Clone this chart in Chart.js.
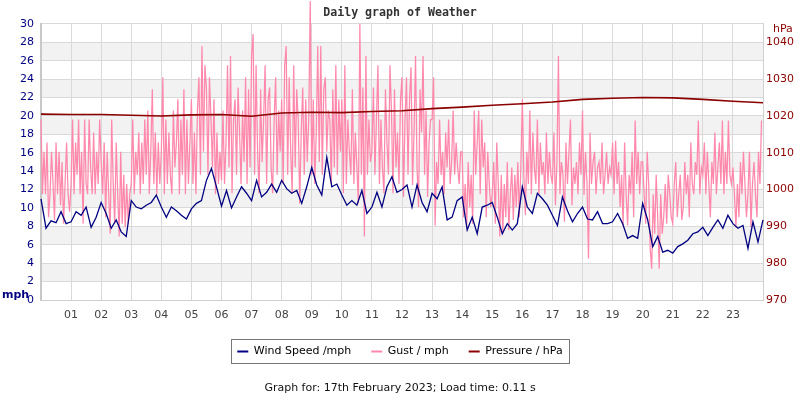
<!DOCTYPE html>
<html>
<head>
<meta charset="utf-8">
<script src="https://cdn.jsdelivr.net/npm/chart.js@4.4.0/dist/chart.umd.min.js"></script>
<style>
  html, body { margin: 0; padding: 0; background: #fff; }
  #wrap { width: 800px; height: 400px; }
</style>
</head>
<body>
<div id="wrap"><canvas id="c" width="800" height="400"></canvas></div>
<script>
// ---- data ----
const hourLabels = ['01','02','03','04','05','06','07','08','09','10','11','12','13','14','15','16','17','18','19','20','21','22','23'];
const windIntervalMin = 10;
const windSpeed = [
  11.0, 7.8, 8.6, 8.4, 9.6, 8.3,
  8.5, 9.6, 9.2, 10.1, 7.9, 9.0,
  10.6, 9.4, 7.8, 8.7, 7.4, 6.9,
  10.8, 10.1, 9.9, 10.3, 10.6, 11.4,
  10.1, 9.0, 10.1, 9.7, 9.2, 8.8,
  9.9, 10.5, 10.8, 13.0, 14.3, 12.3,
  10.2, 11.9, 10.0, 11.2, 12.3, 11.6,
  10.8, 13.0, 11.2, 11.7, 12.6, 11.7,
  13.0, 12.1, 11.6, 11.9, 10.5, 12.3,
  14.4, 12.5, 11.4, 15.5, 12.3, 12.6,
  11.4, 10.3, 10.8, 10.3, 11.9, 9.4,
  10.1, 11.7, 10.1, 12.3, 13.4, 11.7,
  12.0, 12.5, 10.1, 12.5, 10.6, 9.6,
  11.6, 11.0, 12.3, 8.7, 9.0, 10.8,
  11.2, 7.6, 9.0, 7.2, 10.1, 10.3,
  10.6, 9.0, 7.2, 8.3, 7.6, 8.3,
  12.3, 10.1, 9.4, 11.6, 11.0, 10.3,
  9.2, 8.1, 11.2, 9.7, 8.5, 9.4,
  10.1, 8.8, 8.7, 9.6, 8.3, 8.3,
  8.5, 9.4, 8.3, 6.7, 7.0, 6.7,
  10.5, 8.7, 5.8, 6.9, 5.2, 5.4,
  5.1, 5.8, 6.1, 6.5, 7.2, 7.4,
  7.9, 7.0, 7.9, 8.7, 7.8, 9.2,
  8.3, 7.8, 8.1, 5.6, 8.5, 6.3,
  8.7
];
const gustIntervalMin = 3;
const gust = [
  19.6, 11.5, 16.1, 11.5, 17.1, 9.0, 11.5, 16.1, 12.6, 8.7, 17.1, 11.5, 16.1, 10.3, 15.0, 8.3, 12.6, 17.1, 11.5, 9.6,
  12.6, 19.6, 11.5, 17.1, 13.6, 19.6, 11.5, 16.1, 8.3, 19.6, 12.6, 11.5, 19.6, 14.4, 11.5, 18.2, 11.5, 16.1, 12.6, 19.6,
  15.0, 11.5, 17.1, 9.0, 16.1, 11.5, 7.2, 19.6, 12.6, 8.3, 17.1, 11.5, 6.9, 16.1, 8.3, 13.6, 7.9, 12.6, 8.3, 11.5,
  12.6, 19.6, 11.5, 16.1, 13.6, 18.2, 11.5, 17.1, 12.6, 19.6, 13.6, 20.6, 11.5, 16.1, 22.9, 12.6, 18.2, 11.5, 17.1, 12.6,
  16.1, 24.2, 11.5, 19.6, 12.6, 18.2, 13.6, 11.5, 20.6, 14.4, 17.1, 21.8, 11.5, 19.6, 13.6, 22.9, 11.5, 19.6, 12.6, 17.1,
  21.8, 12.6, 18.2, 11.5, 20.6, 24.2, 13.6, 27.6, 16.1, 25.5, 22.9, 13.6, 24.2, 19.6, 14.4, 21.8, 11.5, 18.2, 12.6, 16.1,
  13.0, 20.6, 12.6, 17.1, 25.5, 14.4, 26.5, 11.6, 19.6, 21.8, 13.6, 23.1, 18.2, 12.6, 20.6, 15.0, 24.2, 12.6, 22.9, 14.4,
  26.5, 28.9, 13.6, 25.5, 16.1, 11.6, 22.9, 15.0, 19.6, 25.5, 12.6, 21.8, 23.1, 14.4, 11.6, 19.6, 24.2, 13.6, 20.6, 16.1,
  21.8, 12.6, 25.5, 27.6, 13.6, 24.2, 16.1, 11.6, 25.5, 14.4, 22.9, 19.6, 10.5, 18.2, 23.1, 13.6, 21.8, 15.0, 19.6, 32.5,
  13.6, 21.8, 12.6, 18.2, 27.6, 15.0, 27.6, 13.6, 22.9, 24.2, 16.1, 20.6, 19.6, 12.6, 22.9, 14.4, 25.5, 13.6, 21.8, 16.1,
  21.8, 11.6, 25.5, 12.6, 19.6, 16.1, 13.6, 22.9, 12.6, 18.2, 14.4, 10.5, 30.0, 13.6, 23.1, 6.9, 26.5, 13.6, 19.6, 15.0,
  16.1, 23.1, 13.6, 19.6, 25.5, 12.6, 19.6, 14.4, 11.6, 22.9, 17.1, 13.6, 25.5, 20.6, 11.6, 22.9, 14.4, 18.2, 12.6, 21.8,
  24.2, 11.2, 19.6, 24.2, 13.6, 21.8, 25.3, 12.5, 18.2, 26.5, 14.4, 10.1, 22.9, 18.2, 26.5, 13.6, 20.6, 11.2, 17.1, 19.6,
  19.6, 24.2, 8.1, 15.0, 12.6, 19.6, 13.6, 16.1, 11.5, 18.2, 14.4, 19.6, 12.6, 15.0, 20.6, 13.6, 17.1, 14.4, 12.6, 16.1,
  16.1, 9.0, 12.6, 7.9, 15.0, 10.1, 13.6, 8.3, 20.6, 13.6, 17.1, 20.6, 11.5, 19.6, 14.4, 17.1, 9.0, 16.1, 12.6, 10.1,
  11.5, 15.0, 8.3, 17.1, 12.6, 6.9, 13.6, 7.2, 12.6, 9.0, 15.0, 7.6, 11.5, 14.4, 8.7, 13.6, 10.1, 15.0, 9.0, 14.4,
  21.8, 13.6, 9.2, 16.1, 12.6, 20.6, 11.5, 18.2, 14.4, 12.6, 19.6, 11.5, 17.1, 13.6, 15.0, 11.5, 18.2, 12.6, 16.1, 13.6,
  12.6, 18.2, 10.3, 15.0, 26.5, 11.5, 15.0, 13.6, 8.5, 17.1, 12.6, 16.1, 19.6, 10.3, 14.4, 12.6, 15.0, 11.5, 17.1, 13.6,
  20.6, 11.4, 16.1, 12.6, 4.5, 18.2, 12.6, 15.0, 16.1, 11.5, 14.4, 15.0, 12.6, 17.1, 11.5, 13.6, 16.1, 12.6, 14.4, 13.6,
  17.1, 11.5, 17.3, 12.6, 15.0, 10.1, 13.6, 8.1, 17.1, 11.5, 8.1, 13.6, 11.5, 16.1, 9.0, 19.5, 12.6, 16.1, 11.5, 15.0,
  15.0, 11.5, 8.3, 16.1, 12.6, 5.6, 3.4, 11.5, 7.2, 13.6, 9.0, 3.4, 11.5, 7.2, 9.0, 12.6, 8.3, 13.6, 11.5, 9.0,
  8.3, 12.6, 15.0, 9.0, 11.5, 13.6, 8.7, 10.1, 15.0, 11.5, 13.6, 9.0, 17.1, 12.6, 11.5, 15.0, 13.6, 19.5, 11.5, 14.4,
  13.6, 17.1, 11.5, 16.1, 12.6, 9.0, 15.0, 12.6, 18.2, 11.5, 14.4, 17.1, 12.6, 19.5, 11.5, 16.1, 12.6, 19.5, 13.6, 12.6,
  14.4, 11.5, 7.9, 12.6, 9.0, 15.0, 11.5, 16.1, 12.6, 9.0, 11.5, 16.1, 7.9, 12.6, 15.0, 11.5, 9.0, 16.1, 12.6, 19.5
];
const pressureIntervalMin = 60;
const pressure = [
  1020.5, 1020.4, 1020.4, 1020.2, 1020.0, 1020.3, 1020.4, 1019.9, 1020.8, 1021.0,
  1020.9, 1021.2, 1021.4, 1022.0, 1022.4, 1022.9, 1023.3, 1023.8, 1024.5, 1024.8,
  1025.0, 1024.9, 1024.5, 1024.0, 1023.6
];
const seriesNames = ['Wind Speed /mph', 'Gust / mph', 'Pressure / hPa'];
const titleText = 'Daily graph of Weather';
const footerText = 'Graph for: 17th February 2023; Load time: 0.11 s';

// ---- helpers ----
const toPoints = (arr, step) => arr.map((v, i) => ({ x: i * step / 60, y: v }));

const NAVY = '#000080', PINK = '#ff88ac', DRED = '#8b0000';

const bandsPlugin = {
  id: 'bands',
  beforeDraw(chart) {
    const { ctx, chartArea: a, scales: { y } } = chart;
    ctx.save();
    ctx.fillStyle = '#f2f2f2';
    for (let v = 2; v < 30; v += 4) {
      const top = y.getPixelForValue(v + 2), bot = y.getPixelForValue(v);
      ctx.fillRect(a.left, top, a.right - a.left, bot - top);
    }
    ctx.restore();
  }
};

const extrasPlugin = {
  id: 'extras',
  afterDraw(chart) {
    const { ctx } = chart;
    ctx.save();
    ctx.textBaseline = 'middle';
    ctx.textAlign = 'left';
    ctx.font = 'bold 11px "DejaVu Sans"';
    ctx.fillStyle = NAVY;
    ctx.fillText('mph', 2, 295);
    ctx.font = '11px "DejaVu Sans"';
    ctx.fillStyle = DRED;
    ctx.fillText('hPa', 773, 29);
    const lg = chart.legend;
    if (lg && lg.legendHitBoxes && lg.legendHitBoxes.length) {
      const hb = lg.legendHitBoxes;
      const l = Math.min(...hb.map(h => h.left));
      const r = Math.max(...hb.map(h => h.left + h.width));
      const t = Math.min(...hb.map(h => h.top));
      const b = Math.max(...hb.map(h => h.top + h.height));
      ctx.strokeStyle = '#777';
      ctx.lineWidth = 1;
      ctx.strokeRect(Math.round(l - 6) + 0.5, Math.round(t - 7) + 0.5, Math.round(r - l + 13), Math.round(b - t + 13));
    }
    ctx.restore();
  }
};

new Chart(document.getElementById('c'), {
  type: 'line',
  data: {
    datasets: [
      { label: seriesNames[0], data: toPoints(windSpeed, windIntervalMin), borderColor: NAVY, backgroundColor: NAVY,
        borderWidth: 1.3, pointRadius: 0, yAxisID: 'y', order: 1, clip: false },
      { label: seriesNames[1], data: toPoints(gust, gustIntervalMin), borderColor: PINK, backgroundColor: PINK,
        borderWidth: 1.25, pointRadius: 0, yAxisID: 'y', order: 2, clip: false },
      { label: seriesNames[2], data: toPoints(pressure, pressureIntervalMin), borderColor: DRED, backgroundColor: DRED,
        borderWidth: 1.6, pointRadius: 0, yAxisID: 'y1', order: 0, clip: false }
    ]
  },
  options: {
    responsive: false,
    animation: false,
    events: [],
    layout: { padding: { left: 0, right: 0, top: 0, bottom: 0 } },
    scales: {
      x: {
        type: 'linear', min: 0, max: 24,
        afterFit: s => { s.height = 26; },
        grid: { color: '#d9d9d9', drawTicks: false },
        border: { color: '#cfcfcf' },
        ticks: {
          stepSize: 1, autoSkip: false, maxRotation: 0, padding: 9,
          color: '#444', font: { family: 'DejaVu Sans', size: 11 },
          callback: v => (v >= 1 && v <= 23) ? hourLabels[v - 1] : ''
        }
      },
      y: {
        position: 'left', min: 0, max: 30,
        afterFit: s => { s.width = 41; },
        grid: { color: '#d9d9d9', drawTicks: false },
        border: { color: '#c8c8c8', width: 2 },
        ticks: { stepSize: 2, padding: 7, color: NAVY, font: { family: 'DejaVu Sans', size: 11 } }
      },
      y1: {
        position: 'right', min: 970, max: 1045,
        afterFit: s => { s.width = 37; },
        grid: { display: false, drawTicks: false },
        border: { color: '#d0d0d0' },
        ticks: { stepSize: 10, includeBounds: false, padding: 3, color: DRED, font: { family: 'DejaVu Sans', size: 11 },
          callback: v => (v % 10 === 0) ? String(v) : '' }
      }
    },
    plugins: {
      title: {
        display: true, text: titleText, color: '#333',
        font: { family: 'DejaVu Sans Mono', size: 11.6, weight: 'bold' },
        padding: { top: 6, bottom: 4 }
      },
      subtitle: {
        display: true, position: 'bottom', text: footerText, color: '#111',
        font: { family: 'DejaVu Sans', size: 11, weight: 'normal' },
        padding: { top: 14.4, bottom: 5.4 }
      },
      legend: {
        display: true, position: 'bottom',
        labels: {
          color: '#000', font: { family: 'DejaVu Sans', size: 11 },
          boxWidth: 11, boxHeight: 2, padding: 20,
          sort: (a, b) => a.datasetIndex - b.datasetIndex,
          generateLabels: chart => Chart.defaults.plugins.legend.labels.generateLabels(chart)
            .map(it => Object.assign(it, { lineWidth: 0, strokeStyle: 'rgba(0,0,0,0)' }))
        }
      },
      tooltip: { enabled: false }
    }
  },
  plugins: [bandsPlugin, extrasPlugin]
});
</script>
</body>
</html>
